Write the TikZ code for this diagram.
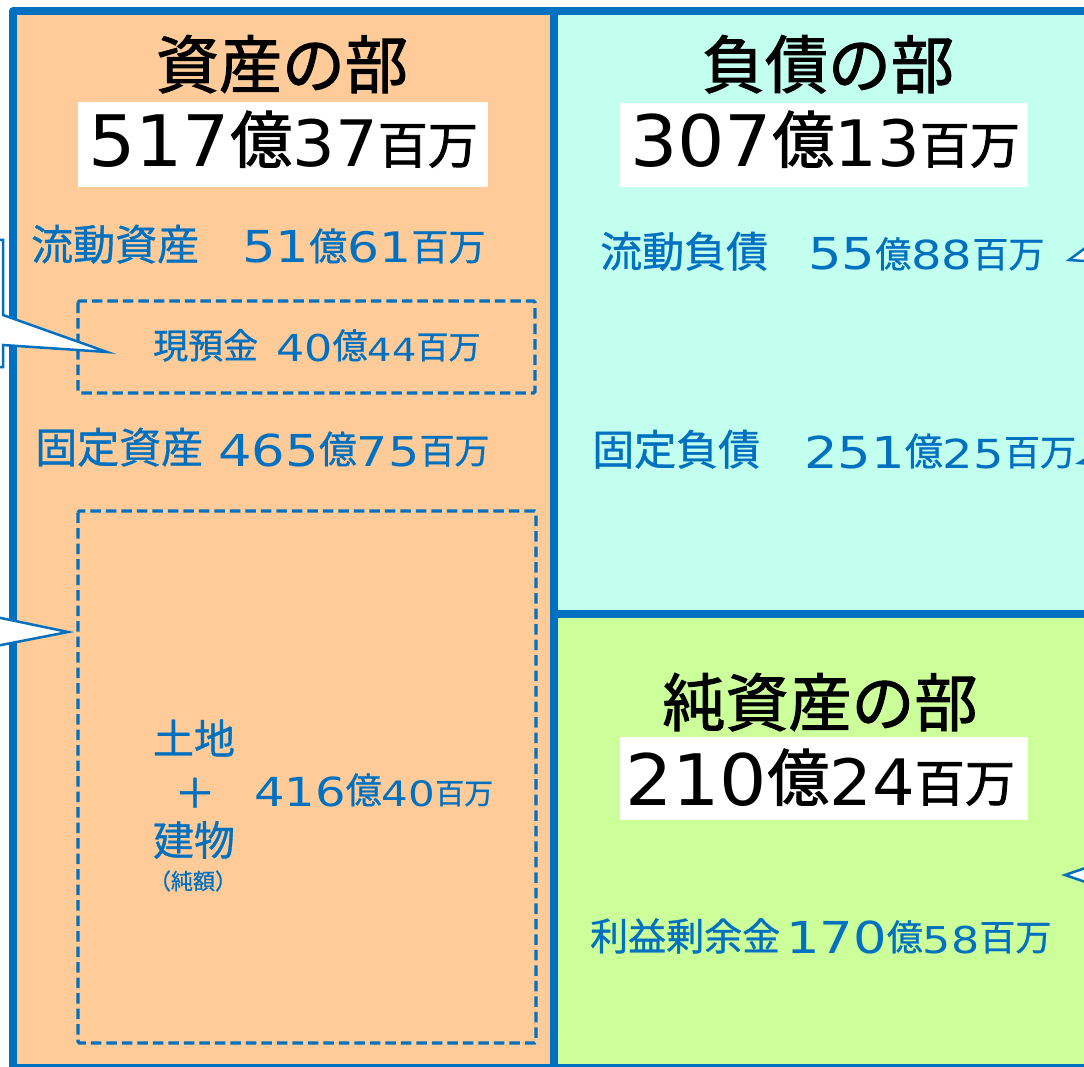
\documentclass[tikz,border=0pt]{standalone}
\usepackage{fontspec}
\newfontfamily\jpfont[FakeBold=0.8]{Noto Sans CJK JP}
\newfontfamily\jpbfont[FakeBold=1.6]{Noto Sans CJK JP}
\newfontfamily\digk[FakeStretch=1.05]{DejaVu Sans}
\newfontfamily\digb[FakeStretch=1.2]{DejaVu Sans}
\newcommand\jpt[2]{{\fontsize{#1pt}{#1pt}\selectfont\jpfont\raisebox{0.07em}{#2}}}
\newcommand\jbt[2]{{\fontsize{#1pt}{#1pt}\selectfont\jpbfont\raisebox{0.07em}{#2}}}
\newcommand\dkt[2]{{\fontsize{#1pt}{#1pt}\selectfont\digk #2}}
\newcommand\dbt[2]{{\fontsize{#1pt}{#1pt}\selectfont\digb #2}}
\definecolor{ablue}{HTML}{0070C0}
\definecolor{aorange}{HTML}{FFCC99}
\definecolor{acyan}{HTML}{C2FFEE}
\definecolor{agreen}{HTML}{CCFF99}
\begin{document}
\begin{tikzpicture}[x=1pt,y=-1pt,
  frame/.style={draw=ablue,line width=7.5pt,line join=round},
  dashbox/.style={draw=ablue,line width=3.3pt,dash pattern=on 10.5pt off 5pt,rounded corners=1.5pt},
  callout/.style={fill=white,draw=ablue,line width=2.5pt,line join=miter},
  ttl/.style={anchor=base,inner sep=0pt,text=black,font=\fontsize{63pt}{63pt}\selectfont\jpbfont},
  num/.style={anchor=base,inner sep=0pt,text=black},
  lbl/.style={anchor=base west,inner sep=0pt,text=ablue},
  cj/.style={anchor=center,inner sep=0pt,text=ablue,font=\fontsize{41pt}{41pt}\selectfont\jpfont}]
\useasboundingbox (0,0) rectangle (1084,1067);
\clip (0,0) rectangle (1084,1067);
% panels
\fill[aorange] (13,11) rectangle (554,1068);
\fill[acyan] (554,11) rectangle (1100,614);
\fill[agreen] (554,614) rectangle (1100,1068);
\draw[frame] (13,11) rectangle (554,1068);
\draw[frame] (554,11) rectangle (1100,614);
\draw[frame] (554,614) rectangle (1100,1068);
% white boxes
\fill[white] (78,102) rectangle (488,187);
\fill[white] (620,103) rectangle (1028,187);
\fill[white] (620,737) rectangle (1028,820);
% dashed boxes
\draw[dashbox] (78,301) rectangle (535,393);
\draw[dashbox] (78,511) rectangle (536,1043);
% callouts
\filldraw[callout] (-20,240) -- (3,240) -- (3,315) -- (107,352) -- (3,345) -- (3,367) -- (-20,367) -- cycle;
\filldraw[callout] (-30,590) -- (-4,590) -- (-4,617) -- (68,632) -- (-4,646) -- (-4,690) -- (-30,690) -- cycle;
\filldraw[callout] (1069,260) -- (1100,237) -- (1100,180) -- (1150,180) -- (1150,330) -- (1100,330) -- (1100,262) -- cycle;
\filldraw[callout] (1079,463) -- (1100,450) -- (1100,400) -- (1150,400) -- (1150,520) -- (1100,520) -- (1100,465) -- cycle;
\filldraw[callout] (1065,875) -- (1100,863) -- (1100,800) -- (1150,800) -- (1150,950) -- (1100,950) -- (1100,887) -- cycle;
% titles
\node[ttl] (t1) at (282,88) {資産の部};
\node[ttl] (t2) at (828,88) {負債の部};
\node[ttl] (t3) at (820,726) {純資産の部};
% big numbers
\node[num] (n1) at (283,167) {\dkt{71}{517}\jbt{62}{億}\dkt{64}{37}\jbt{50}{百万}};
\node[num] (n2) at (825,167) {\dkt{71}{307}\jbt{62}{億}\dkt{64}{13}\jbt{50}{百万}};
\node[num] (n3) at (820,805) {\dkt{71}{210}\jbt{62}{億}\dkt{64}{24}\jbt{50}{百万}};
% left texts
\node[lbl] (a1) at (31,263) {\jpt{42}{流動資産}\hspace{43pt}\dbt{44}{51}\jpt{38}{億}\dbt{42}{61}\jpt{37}{百万}};
\node[lbl] (a2) at (153,361) {\jpt{35}{現預金}\hspace{18pt}\dbt{37}{40}\jpt{35}{億}\dbt{32}{44}\jpt{32}{百万}};
\node[lbl] (a3) at (35,466) {\jpt{42}{固定資産}\hspace{15pt}\dbt{44}{465}\jpt{38}{億}\dbt{41}{75}\jpt{35}{百万}};
\node[cj] (a4) at (194,738) {土地};
\node[cj] (a5) at (195,793) {＋};
\node[cj] (a6) at (194,840) {建物};
\node[cj,font=\fontsize{22pt}{22pt}\selectfont\jpfont] (a7) at (193,881) {（純額）};
\node[lbl] (a8) at (254,806) {\dbt{40}{416}\jpt{36}{億}\dbt{35}{40}\jpt{29}{百万}};
% right texts
\node[lbl] (b1) at (600,270) {\jpt{42}{流動負債}\hspace{40pt}\dbt{44}{55}\jpt{36}{億}\dbt{40}{88}\jpt{36}{百万}};
\node[lbl] (b2) at (592,468) {\jpt{42}{固定負債}\hspace{44pt}\dbt{44}{251}\jpt{38}{億}\dbt{40}{25}\jpt{36}{百万}};
\node[lbl] (c1) at (590,953) {\jpt{38}{利益剰余金}\hspace{6pt}\dbt{44}{170}\jpt{36}{億}\dbt{37}{58}\jpt{36}{百万}};
\end{tikzpicture}
\end{document}
